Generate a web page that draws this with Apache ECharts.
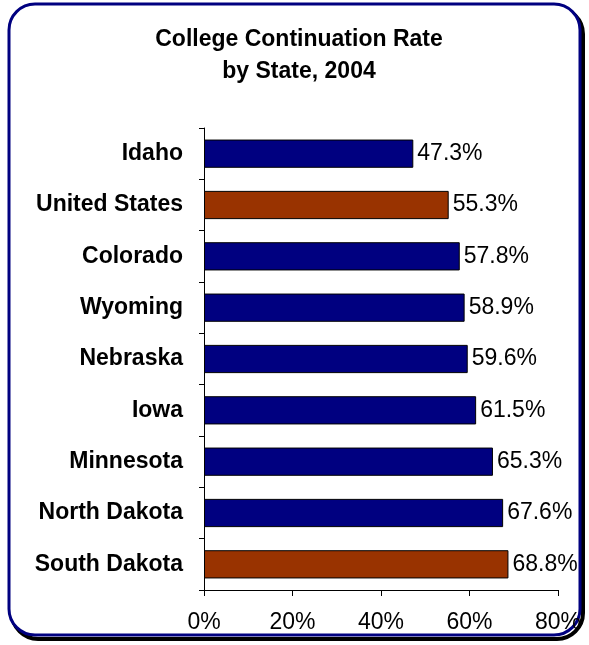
<!DOCTYPE html>
<html>
<head>
<meta charset="utf-8">
<script src="https://cdn.jsdelivr.net/npm/echarts@6/dist/echarts.min.js"></script>
<style>
  html, body { margin: 0; padding: 0; background: #fff; }
  #chart { width: 589px; height: 645px; }
</style>
</head>
<body>
<div id="chart"></div>
<script>
// data
const states = ['Idaho', 'United States', 'Colorado', 'Wyoming', 'Nebraska', 'Iowa', 'Minnesota', 'North Dakota', 'South Dakota']
const rates = [47.3, 55.3, 57.8, 58.9, 59.6, 61.5, 65.3, 67.6, 68.8]
const highlighted = ['United States', 'South Dakota']
const xTicks = [0, 20, 40, 60, 80]

const NAVY = '#000080'
const RUST = '#993300'
const FONT = 'Liberation Sans, Arial, sans-serif'

const chart = echarts.init(document.getElementById('chart'), null, { renderer: 'canvas' })

chart.setOption({
  backgroundColor: '#fff',
  animation: false,
  graphic: [
    {
      type: 'rect',
      z: -10,
      shape: { x: 12, y: 8, width: 571, height: 631, r: 26 },
      style: { fill: 'none', stroke: '#000', lineWidth: 4 }
    },
    {
      type: 'rect',
      z: -9,
      shape: { x: 9, y: 4, width: 571, height: 631, r: 26 },
      style: { fill: '#fff', stroke: NAVY, lineWidth: 3 }
    }
  ],
  title: {
    text: 'College Continuation Rate\nby State, 2004',
    left: 294,
    top: 19,
    textAlign: 'center',
    textStyle: { fontFamily: FONT, fontSize: 23, fontWeight: 'bold', color: '#000', lineHeight: 32 }
  },
  grid: { left: 204, right: 31, top: 128, bottom: 55, containLabel: false },
  xAxis: {
    type: 'value',
    min: xTicks[0],
    max: xTicks[xTicks.length - 1],
    interval: 20,
    axisLine: { show: true, lineStyle: { color: '#000', width: 1 } },
    axisTick: { show: true, length: 6, lineStyle: { color: '#000' } },
    splitLine: { show: false },
    axisLabel: {
      margin: 21,
      fontFamily: FONT,
      fontSize: 23,
      color: '#000',
      formatter: v => v + '%'
    }
  },
  yAxis: {
    type: 'category',
    data: states,
    inverse: true,
    axisLine: { show: true, lineStyle: { color: '#000', width: 1 } },
    axisTick: { show: true, length: 5, lineStyle: { color: '#000' } },
    axisLabel: {
      margin: 21,
      fontFamily: FONT,
      fontSize: 23,
      fontWeight: 'bold',
      color: '#000'
    }
  },
  series: [{
    type: 'bar',
    barCategoryGap: '45%',
    data: states.map((s, i) => ({
      value: rates[i],
      itemStyle: { color: highlighted.includes(s) ? RUST : NAVY }
    })),
    itemStyle: { borderColor: '#000', borderWidth: 1 },
    label: {
      show: true,
      position: 'right',
      distance: 4,
      fontFamily: FONT,
      fontSize: 23,
      color: '#000',
      formatter: p => p.value.toFixed(1) + '%'
    }
  }]
})
</script>
</body>
</html>
